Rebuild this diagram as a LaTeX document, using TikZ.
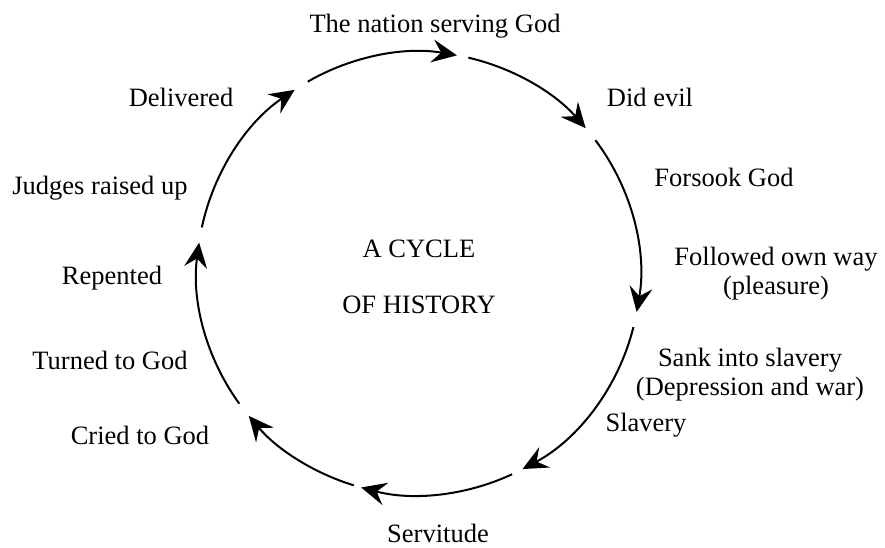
\documentclass[tikz,border=0pt]{standalone}
\usepackage{fontspec}
\IfFontExistsTF{LiberationSerif-Regular.ttf}
  {\setmainfont{LiberationSerif-Regular.ttf}}
  {\setmainfont{Liberation Serif}}
\usetikzlibrary{arrows.meta}
\begin{document}
\begin{tikzpicture}[x=1pt,y=1pt,
  cyc/.style={line width=2pt, -{Stealth[length=25pt,width=23pt,inset=9pt]}},
  lbl/.style={font=\fontsize{26.5}{29}\selectfont, inner sep=0pt, align=center}]
\useasboundingbox (0,0) rectangle (885,548);
\coordinate (c) at (418.5,274.5);
\foreach \a/\b in {120/80, 77/41, 37/-10, -14/-62, -65/-105, -107/-140, -144/-188, 168/124}
  \draw[cyc] ([shift={(\a:221.5)}]c) arc[start angle=\a, end angle=\b, radius=221.5];
\node[lbl, anchor=base] (nation) at (435,515) {The nation serving God};
\node[lbl, anchor=base] (did) at (650,441) {Did evil};
\node[lbl, anchor=base] (forsook) at (724,361) {Forsook God};
\node[lbl] (followed) at (776,274) {Followed own way\\(pleasure)};
\node[lbl] (sank) at (750,173) {Sank into slavery\\(Depression and war)};
\node[lbl, anchor=base] (slavery) at (646,116) {Slavery};
\node[lbl, anchor=base] (servitude) at (438,5) {Servitude};
\node[lbl, anchor=base] (cried) at (140,103) {Cried to God};
\node[lbl, anchor=base] (turned) at (110,178) {Turned to God};
\node[lbl, anchor=base] (repented) at (112,263) {Repented};
\node[lbl, anchor=base] (judges) at (100,353) {Judges raised up};
\node[lbl, anchor=base] (delivered) at (181,441) {Delivered};
\node[lbl] (title) at (419,271.5) {A CYCLE\\[27pt]OF HISTORY};
\end{tikzpicture}
\end{document}
